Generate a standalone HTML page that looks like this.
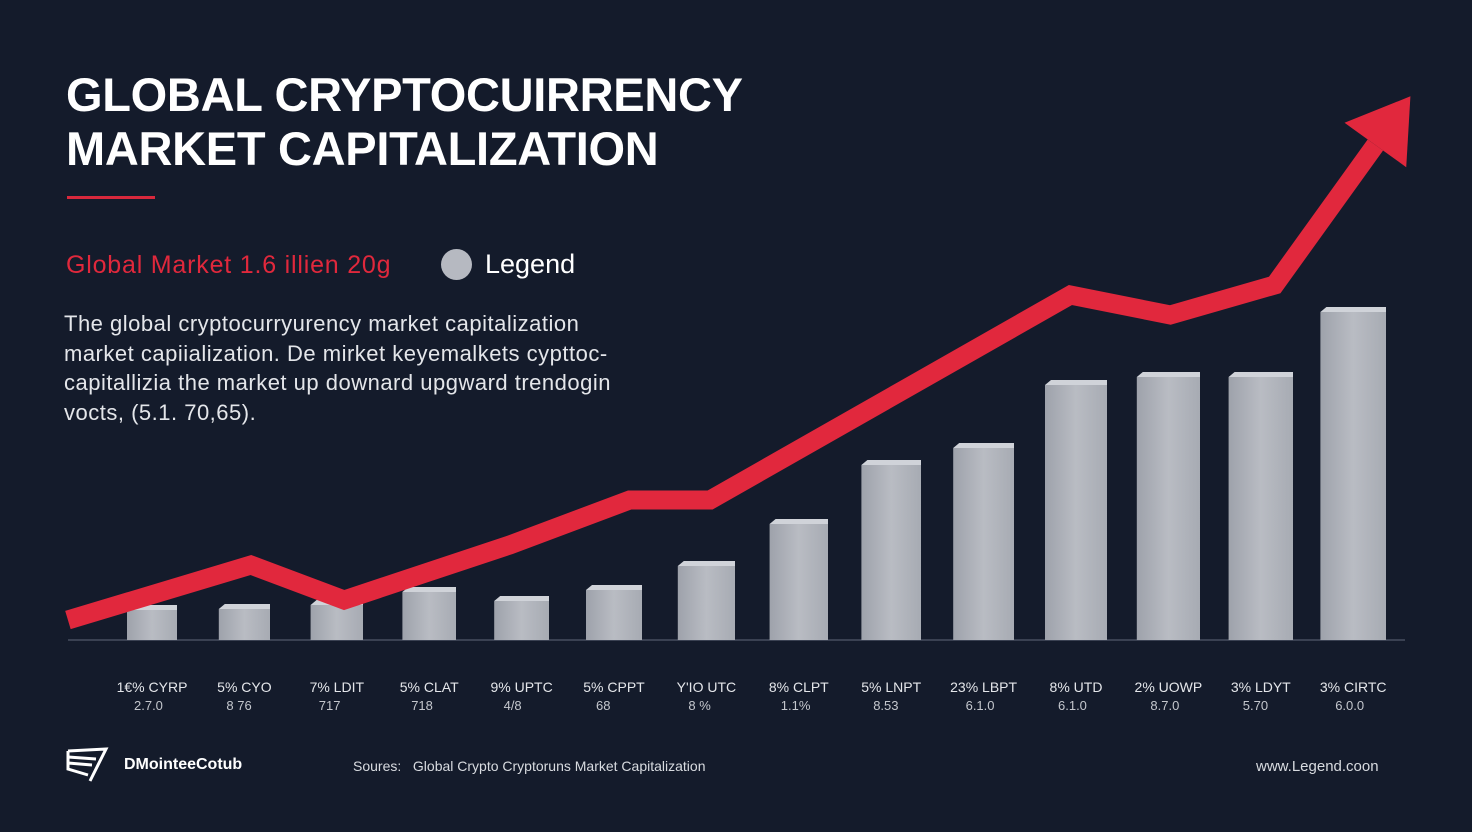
<!DOCTYPE html>
<html><head><meta charset="utf-8"><style>
body{margin:0;width:1472px;height:832px;background:#141b2b;overflow:hidden;font-family:"Liberation Sans",sans-serif;color:#fff}
.t{position:absolute;white-space:nowrap}
</style></head><body>
<div class="t" style="left:66px;top:68px;font-size:47px;font-weight:bold;line-height:54px;letter-spacing:-0.3px">GLOBAL CRYPTOCUIRRENCY<br>MARKET CAPITALIZATION</div>
<div style="position:absolute;left:67px;top:196px;width:88px;height:3px;background:#d8283c"></div>
<div class="t" style="left:66px;top:251px;font-size:25px;color:#e0283c;letter-spacing:0.8px">Global Market 1.6 illien 20g</div>
<div style="position:absolute;left:441px;top:249px;width:31px;height:31px;border-radius:50%;background:#b6b9c1"></div>
<div class="t" style="left:485px;top:249px;font-size:27px">Legend</div>
<div class="t" style="left:64px;top:309px;font-size:22px;line-height:29.5px;color:#e4e6ea;letter-spacing:0.5px">The global cryptocurryurency market capitalization<br>market capiialization. De mirket keyemalkets cypttoc-<br>capitallizia the market up downard upgward trendogin<br>vocts, (5.1. 70,65).</div>
<svg id="chart" width="1472" height="832" style="position:absolute;left:0;top:0"></svg>
<svg class="t" style="left:66px;top:745px" width="44" height="40" viewBox="0 0 44 40"><path d="M2 6 L40 4 L24 36 M2 6 L2 24 L22 30 M2 12 L30 14 M2 18 L26 20" stroke="#fff" stroke-width="3" fill="none"/></svg>
<div class="t" style="left:124px;top:756px;font-size:16px;font-weight:bold">DMointeeCotub</div>
<div class="t" style="left:353px;top:758px;font-size:14px;color:#d8dbe0">Soures:&nbsp;&nbsp; Global Crypto Cryptoruns Market Capitalization</div>
<div class="t" style="left:1256px;top:758px;font-size:15px;color:#d8dbe0">www.Legend.coon</div>
<script>
const barValues=[30,31,35,48,39,50,74,116,175,192,255,263,263,328];
const barLabels=["1€% CYRP","5% CYO","7% LDIT","5% CLAT","9% UPTC","5% CPPT","Y'IO  UTC","8% CLPT","5% LNPT","23% LBPT","8% UTD","2% UOWP","3% LDYT","3% CIRTC"];
const barSub=["2.7.0","8 76","717","718","4/8","68","8 %","1.1%","8.53","6.1.0","6.1.0","8.7.0","5.70","6.0.0"];
const lineX=[-0.91,1.07,2.08,3.87,5.17,6.04,9.94,11.02,12.15,13.24];
const lineY=[20,75,40,95,140,140,345,325,355,495];
const svg=document.getElementById('chart');const NS='http://www.w3.org/2000/svg';
const base=640,x0=152,step=92.4;
const xs=i=>x0+i*step, ys=v=>base-v;
function mk(t,a){const e=document.createElementNS(NS,t);for(const k in a)e.setAttribute(k,a[k]);svg.appendChild(e);return e;}
const bl=mk('line',{x1:68,y1:base,x2:1405,y2:base,stroke:'#3a4152','stroke-width':2});


const defs=mk('defs',{});defs.innerHTML='<linearGradient id="g" x1="0" x2="1"><stop offset="0" stop-color="#9ea2ab"/><stop offset="0.5" stop-color="#b9bcc3"/><stop offset="1" stop-color="#a7abb3"/></linearGradient>';
barValues.forEach((v,i)=>{
 const w=50+i*1.2,cx=xs(i),top=ys(v);
 const r=mk('rect',{x:cx-w/2,y:top,width:w,height:base-top,fill:'url(#g)'});
 
 
 const c=mk('polygon',{points:`${cx-w/2},${top} ${cx-w/2+6},${top-5} ${cx+w/2},${top-5} ${cx+w/2},${top}`,fill:'#d0d3d9'});
 
 
 const t=mk('text',{x:cx,y:692,'text-anchor':'middle','font-size':14,fill:'#e4e6ea','font-family':'Liberation Sans'});t.textContent=barLabels[i];
 
 
 const s=mk('text',{x:cx-18,y:710,'font-size':13,fill:'#c4c7cd','font-family':'Liberation Sans'});s.textContent=barSub[i];
 
 
});
const pts=lineX.map((x,i)=>[xs(x),ys(lineY[i])]);
const ln=mk('polyline',{points:pts.map(p=>p.join(',')).join(' '),fill:'none',stroke:'#e1283d','stroke-width':19,'stroke-linejoin':'miter'});


const [ex,ey]=pts[pts.length-1],[px,py]=pts[pts.length-2];
const dx=ex-px,dy=ey-py,L=Math.hypot(dx,dy),ux=dx/L,uy=dy/L,nx=-uy,ny=ux;
const tip=[ex+ux*60,ey+uy*60];
const ah=mk('polygon',{points:`${tip} ${ex+nx*38},${ey+ny*38} ${ex-nx*38},${ey-ny*38}`,fill:'#e1283d'});


</script>
</body></html>
